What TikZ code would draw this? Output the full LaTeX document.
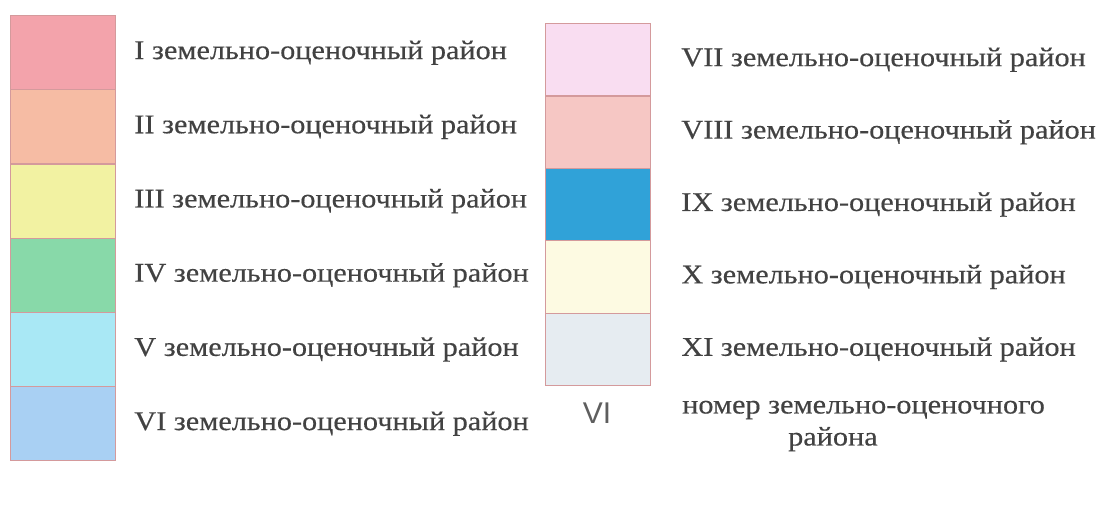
\documentclass[tikz,border=0pt]{standalone}
\usepackage{fontspec}
\setmainfont{Liberation Serif}[FakeStretch=1.12, FakeBold=0.4]
\newfontfamily\numfont{Liberation Sans}
\usetikzlibrary{positioning}

\definecolor{zoneI}{HTML}{F3A3AB}
\definecolor{zoneII}{HTML}{F6BCA4}
\definecolor{zoneIII}{HTML}{F2F2A2}
\definecolor{zoneIV}{HTML}{88D9A9}
\definecolor{zoneV}{HTML}{A9E8F5}
\definecolor{zoneVI}{HTML}{A9D0F3}
\definecolor{zoneVII}{HTML}{F9DDF1}
\definecolor{zoneVIII}{HTML}{F6C7C4}
\definecolor{zoneIX}{HTML}{30A2D8}
\definecolor{zoneX}{HTML}{FDFAE2}
\definecolor{zoneXI}{HTML}{E6ECF1}
\definecolor{swatchline}{HTML}{D49A9C}
\definecolor{textgray}{HTML}{424242}

\begin{document}
\begin{tikzpicture}[
    x=1pt, y=-1pt,
    swatch/.style={draw=swatchline, line width=1.2pt, minimum width=105pt,
      inner sep=0pt, anchor=north west},
    zonetext/.style={font=\fontsize{27}{32}\selectfont, text=textgray,
      inner sep=0pt, anchor=west},
]
\useasboundingbox (0,0) rectangle (1104,508);

% ---------------------------------------------------------
% Left column: districts I--VI
% ---------------------------------------------------------
\foreach \c/\t [count=\k] in {zoneI/I, zoneII/II, zoneIII/III,
    zoneIV/IV, zoneV/V, zoneVI/VI}
  {\node[swatch, fill=\c, minimum height=74.2pt] (L\k)
     at (10,{15+(\k-1)*74.2}) {};
   \node[zonetext, right=18pt of L\k] (LT\k)
     {\t\ земельно-оценочный район};}

% ---------------------------------------------------------
% Right column: districts VII--XI
% ---------------------------------------------------------
\foreach \c/\t [count=\k] in {zoneVII/VII, zoneVIII/VIII, zoneIX/IX,
    zoneX/X, zoneXI/XI}
  {\node[swatch, fill=\c, minimum height=72.4pt] (R\k)
     at (545,{23+(\k-1)*72.4}) {};
   \node[zonetext, right=30pt of R\k] (RT\k)
     {\t\ земельно-оценочный район};}

% number of the district
\node[font=\numfont\fontsize{30}{34}\selectfont, text=textgray!85]
  (num) at (597,413) {VI};
\node[zonetext, align=left] (numtext) at (682,426)
  {номер земельно-оценочного\\\hspace*{106pt}района};

\end{tikzpicture}
\end{document}
